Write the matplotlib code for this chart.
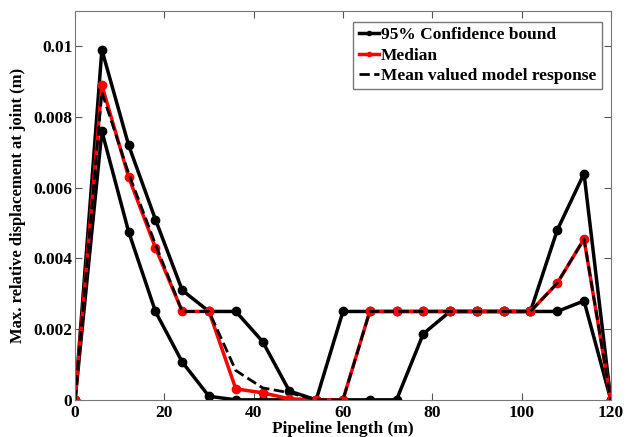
import matplotlib.pyplot as plt

plt.rcParams['font.family'] = ['Liberation Serif', 'DejaVu Serif']
plt.rcParams['font.weight'] = 'bold'

longitud = [0, 6, 12, 18, 24, 30, 36, 42, 48, 54, 60, 66, 72, 78, 84, 90, 96, 102, 108, 114, 120]

# Bandas de confianza del 95%
banda_sup = [0, 0.0099, 0.0072, 0.0051, 0.0031, 0.0025, 0.0025, 0.00165, 0.00025, 0,
             0.0025, 0.0025, 0.0025, 0.0025, 0.0025, 0.0025, 0.0025, 0.0025, 0.0048, 0.0064, 0]
banda_inf = [0, 0.0076, 0.00475, 0.0025, 0.00107, 0.0001, 0, 0, 0, 0,
             0, 0, 0, 0.00187, 0.0025, 0.0025, 0.0025, 0.0025, 0.0025, 0.0028, 0]
mediana = [0, 0.0089, 0.0063, 0.0043, 0.0025, 0.0025, 0.00031, 0.0002, 0.00003, 0,
           0, 0.0025, 0.0025, 0.0025, 0.0025, 0.0025, 0.0025, 0.0025, 0.0033, 0.00455, 0]
media = [0, 0.0087, 0.0064, 0.0044, 0.0025, 0.0025, 0.00083, 0.00034, 0.0002, 0,
         0, 0.0025, 0.0025, 0.0025, 0.0025, 0.0025, 0.0025, 0.0025, 0.0033, 0.00455, 0]

fig = plt.figure(figsize=(6.31, 4.37), dpi=100)
ax = fig.add_axes([0.119, 0.085, 0.849, 0.89])

ax.plot(longitud, banda_sup, color='black', lw=2.5, marker='o', ms=6, label='95% Confidence bound')
ax.plot(longitud, banda_inf, color='black', lw=2.5, marker='o', ms=6)
ax.plot(longitud, mediana, color='red', lw=2.5, marker='o', ms=6, label='Median')
ax.plot(longitud, media, color='black', lw=2, ls='--', label='Mean valued model response')

ax.set_xlim(0, 120)
ax.set_ylim(0, 0.011)
ax.set_xticks([0, 20, 40, 60, 80, 100, 120])
ax.set_yticks([0, 0.002, 0.004, 0.006, 0.008, 0.01])
ax.set_yticklabels(['0', '0.002', '0.004', '0.006', '0.008', '0.01'])
ax.tick_params(direction='in', top=True, right=True, labelsize=12.5, length=5, color='#555555')
ax.tick_params(axis='y', pad=2)
for s in ax.spines.values():
    s.set_color('#777777')

ax.set_xlabel('Pipeline length (m)', fontsize=12.5, fontweight='bold', labelpad=0)
ax.set_ylabel('Max. relative displacement at joint (m)', fontsize=12, fontweight='bold', labelpad=5)

leg = ax.legend(loc='upper right', fontsize=12.5, handlelength=1.2, handletextpad=0.1,
                borderpad=0.3, labelspacing=0.25, fancybox=False, markerscale=0.5,
                borderaxespad=0, bbox_to_anchor=(0.983, 0.972))
leg.get_frame().set_edgecolor('#555555')
leg.get_frame().set_linewidth(1)

plt.savefig('out.png', dpi=100)
